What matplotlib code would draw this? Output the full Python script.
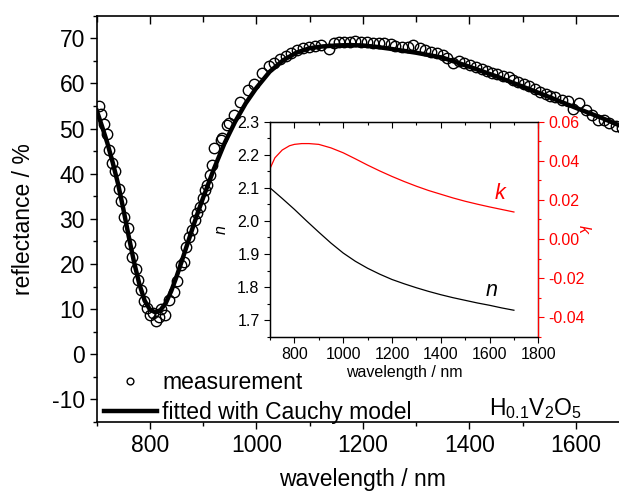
import matplotlib
matplotlib.use("Agg")
import matplotlib.pyplot as plt
from matplotlib.ticker import MultipleLocator, FormatStrFormatter, NullFormatter

plt.rcParams['font.family'] = ['Liberation Sans', 'DejaVu Sans']
plt.rcParams['mathtext.fontset'] = 'custom'
plt.rcParams['mathtext.rm'] = 'Liberation Sans'
plt.rcParams['mathtext.it'] = 'Liberation Sans:italic'
plt.rcParams['axes.unicode_minus'] = False

wl_meas = [704, 708, 714, 720, 724, 728, 734, 741, 745, 751, 758, 762, 767, 773,
           778, 783, 789, 795, 801, 806, 811, 817, 821, 829, 836, 845, 850, 858,
           864, 867, 873, 879, 884, 889, 894, 900, 903, 908, 913, 917, 921, 933,
           936, 945, 948, 958, 970, 985, 995, 1011, 1023, 1034, 1044, 1055, 1065,
           1076, 1087, 1098, 1111, 1122, 1136, 1145, 1155, 1165, 1175, 1186, 1197,
           1208, 1219, 1230, 1240, 1252, 1261, 1274, 1284, 1295, 1307, 1317, 1328,
           1339, 1350, 1358, 1369, 1380, 1390, 1402, 1413, 1424, 1433, 1442, 1452,
           1463, 1474, 1483, 1492, 1502, 1513, 1524, 1533, 1544, 1552, 1561, 1574,
           1586, 1595, 1607, 1619, 1630, 1642, 1653, 1663, 1676, 1686]
refl_meas = [54.9, 53.2, 51.0, 48.8, 45.3, 42.3, 40.6, 36.6, 34.0, 30.5, 28.0, 24.5,
             21.5, 18.9, 16.5, 14.3, 11.7, 10.2, 8.6, 9.1, 7.3, 8.3, 10.0, 8.8, 12.1,
             13.7, 16.3, 19.8, 20.4, 23.8, 25.9, 27.6, 29.8, 31.3, 32.7, 34.6, 36.3,
             37.5, 39.8, 42.0, 45.7, 47.5, 47.9, 50.8, 51.2, 53.0, 55.8, 58.6, 59.8,
             62.2, 63.8, 64.6, 65.4, 66.1, 66.7, 67.3, 67.8, 68.1, 68.3, 68.5, 67.6,
             69.0, 69.1, 69.2, 69.2, 69.3, 69.2, 69.1, 69.0, 69.0, 68.9, 68.7, 68.3,
             68.1, 68.1, 68.5, 67.8, 67.4, 67.0, 66.7, 66.3, 65.6, 64.5, 65.0, 64.6,
             64.1, 63.7, 63.1, 62.8, 62.4, 62.1, 61.7, 61.4, 60.8, 60.4, 59.9, 59.4,
             58.7, 58.2, 57.7, 57.2, 56.9, 56.3, 56.0, 54.3, 55.6, 54.1, 53.0, 51.9,
             51.8, 51.3, 50.6, 50.2]

# Cauchy fit
wl_fit = [700, 710, 720, 730, 740, 750, 760, 770, 780, 790, 800, 810, 820, 830,
          840, 850, 860, 870, 880, 890, 900, 920, 940, 960, 980, 1000, 1025, 1050,
          1075, 1100, 1125, 1150, 1175, 1200, 1225, 1250, 1300, 1350, 1400, 1450,
          1500, 1550, 1600, 1650, 1700]
refl_fit = [54.0, 50.5, 46.8, 42.5, 37.8, 32.2, 26.2, 20.5, 15.6, 11.9, 9.9, 9.3,
            9.8, 11.4, 14.0, 17.2, 20.7, 24.3, 27.9, 31.4, 34.7, 41.0, 46.7, 51.5,
            55.6, 59.0, 62.6, 65.1, 66.8, 67.8, 68.2, 68.4, 68.5, 68.4, 68.1, 67.7,
            66.8, 65.7, 63.7, 61.6, 59.3, 57.0, 54.6, 52.3, 49.8]

# inset: optical constants
wl_n = [700, 750, 800, 850, 900, 950, 1000, 1050, 1100, 1150, 1200, 1250, 1300,
        1350, 1400, 1450, 1500, 1550, 1600, 1650, 1700]
n_vals = [2.100, 2.068, 2.035, 2.000, 1.966, 1.933, 1.903, 1.878, 1.857, 1.839,
          1.823, 1.810, 1.798, 1.787, 1.777, 1.768, 1.760, 1.752, 1.745, 1.737, 1.730]
wl_k = [700, 720, 750, 780, 800, 830, 860, 900, 950, 1000, 1050, 1100, 1150, 1200,
        1250, 1300, 1350, 1400, 1450, 1500, 1550, 1600, 1650, 1700]
k_vals = [0.0360, 0.0415, 0.0455, 0.0477, 0.0484, 0.0488, 0.0488, 0.0484, 0.0466,
          0.0441, 0.0410, 0.0378, 0.0348, 0.0320, 0.0294, 0.0270, 0.0248, 0.0229,
          0.0210, 0.0193, 0.0178, 0.0164, 0.0151, 0.0138]

W, H = 619, 494
fig = plt.figure(figsize=(W / 100, H / 100), dpi=100)


def top_ticks_in(a, major, minor, length, minor_length, width):
    # top axis with inward ticks and no labels
    a.tick_params(axis='x', which='both', top=False)
    sec = a.secondary_xaxis('top')
    sec.xaxis.set_major_locator(MultipleLocator(major))
    sec.xaxis.set_minor_locator(MultipleLocator(minor))
    sec.xaxis.set_major_formatter(NullFormatter())
    sec.tick_params(which='both', direction='in', width=width)
    sec.tick_params(which='major', length=length)
    sec.tick_params(which='minor', length=minor_length)
    sec.spines['top'].set_visible(False)
    return sec


FS = 16.5
ax = fig.add_axes([96.7 / W, 1 - 422 / H, (629 - 96.7) / W, (422 - 15.7) / H])
ax.plot(wl_fit, refl_fit, color='black', lw=3.2, zorder=2,
        label='fitted with Cauchy model')
ax.plot(wl_meas, refl_meas, 'o', mfc='none', mec='black', ms=7.5, mew=1.0,
        zorder=3, label='measurement')
ax.set_xlim(700, 1700)
ax.set_ylim(-15, 75)
ax.xaxis.set_major_locator(MultipleLocator(200))
ax.xaxis.set_minor_locator(MultipleLocator(100))
ax.yaxis.set_major_locator(MultipleLocator(10))
ax.yaxis.set_minor_locator(MultipleLocator(5))
ax.tick_params(which='both', direction='out', labelsize=FS, width=1.0)
ax.tick_params(which='major', length=5)
ax.tick_params(which='minor', length=3)
top_ticks_in(ax, 200, 100, 6, 4, 1.0)
for s in ax.spines.values():
    s.set_linewidth(1.2)
ax.set_xlabel('wavelength / nm', fontsize=FS, labelpad=8)
ax.set_ylabel('reflectance / %', fontsize=FS, labelpad=12)

h, l = ax.get_legend_handles_labels()
ax.legend([h[1], h[0]], [l[1], l[0]], loc='lower left',
          bbox_to_anchor=(104 / W, 1 - 424 / H), bbox_transform=fig.transFigure,
          frameon=False, fontsize=FS, handlelength=2.3, handletextpad=0.25,
          labelspacing=0.3, borderpad=0, borderaxespad=0, markerscale=0.65)

ax.text(489 / W, 1 - 409 / H, r'H$_{0.1}$V$_2$O$_5$', transform=fig.transFigure,
        fontsize=FS, ha='left', va='center')

# inset
FI = 11.5
ins = fig.add_axes([270 / W, 1 - 336.7 / H, (538.3 - 270) / W, (336.7 - 121.7) / H])
ins.plot(wl_n, n_vals, color='black', lw=0.9)
ins.set_xlim(700, 1800)
ins.set_ylim(1.65, 2.3)
ins.xaxis.set_major_locator(MultipleLocator(200))
ins.xaxis.set_minor_locator(MultipleLocator(100))
ins.yaxis.set_major_locator(MultipleLocator(0.1))
ins.yaxis.set_minor_locator(MultipleLocator(0.05))
ins.tick_params(which='both', direction='out', labelsize=FI, width=0.8)
ins.tick_params(which='major', length=4)
ins.tick_params(which='minor', length=2.5)
top_ticks_in(ins, 200, 100, 4, 2.5, 0.8)
ins.set_xlabel('wavelength / nm', fontsize=FI, labelpad=2)
ins.set_ylabel('n', fontsize=FI, style='italic', labelpad=6)
ins.text(1609, 1.79, 'n', fontsize=FS - 1, style='italic', ha='center', va='center')

ink = ins.twinx()
ink.plot(wl_k, k_vals, color='red', lw=0.9)
ink.set_ylim(-0.05, 0.06)
ink.yaxis.set_major_locator(MultipleLocator(0.02))
ink.yaxis.set_minor_locator(MultipleLocator(0.01))
ink.yaxis.set_major_formatter(FormatStrFormatter('%.2f'))
ink.tick_params(axis='y', which='both', direction='out', colors='red',
                labelsize=FI, width=0.8)
ink.tick_params(axis='y', which='major', length=4)
ink.tick_params(axis='y', which='minor', length=2.5)
ink.set_ylabel('k', color='red', fontsize=FI, style='italic', rotation=270,
               labelpad=4)
ink.text(1643, 0.0234, 'k', color='red', fontsize=FS - 1, style='italic',
         ha='center', va='center')
for a in (ins, ink):
    for s in a.spines.values():
        s.set_linewidth(0.9)
ink.spines['right'].set_color('red')

fig.savefig('out.png', dpi=100)
